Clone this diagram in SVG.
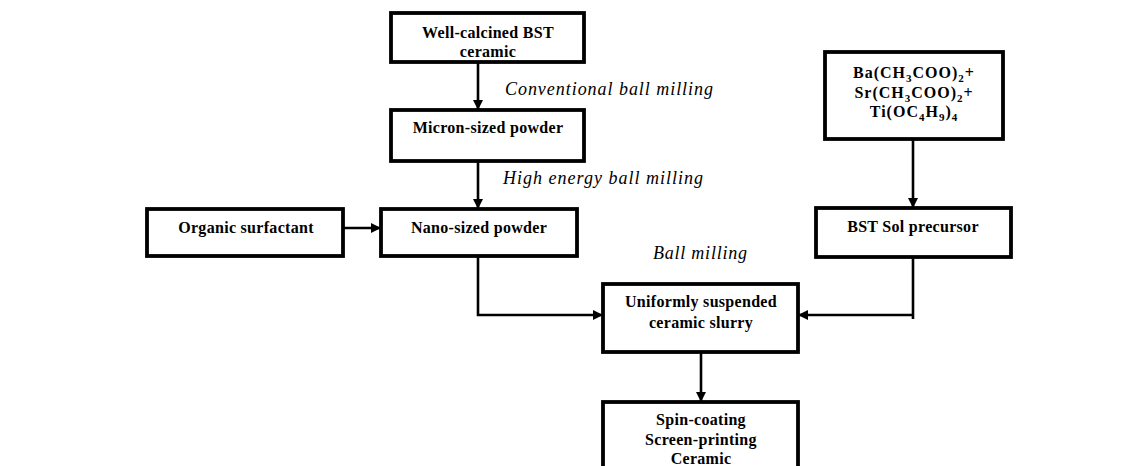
<svg xmlns="http://www.w3.org/2000/svg" width="1143" height="466" viewBox="0 0 1143 466">
<defs>
<style>
.box{fill:#fff;stroke:#000;stroke-width:3.8}
.lbl{font-family:"Liberation Serif","Times New Roman",serif;font-weight:bold;font-size:16px;letter-spacing:0.3px;text-anchor:middle;fill:#000}
.sm{letter-spacing:1px}
.it{font-family:"Liberation Serif","Times New Roman",serif;font-style:italic;font-size:18px;fill:#000}
.con{fill:none;stroke:#000;stroke-width:2.6}
</style>
<marker id="ah" viewBox="0 0 10 10" refX="10" refY="5" markerWidth="10" markerHeight="10" markerUnits="userSpaceOnUse" orient="auto">
<path d="M0,0 L10,5 L0,10 Z" fill="#000"/>
</marker>
</defs>
<rect width="1143" height="466" fill="#fff"/>
<g id="connectors">
<path class="con" d="M478,62 V110" marker-end="url(#ah)"/>
<path class="con" d="M478,161 V209" marker-end="url(#ah)"/>
<path class="con" d="M343,228 H381" marker-end="url(#ah)"/>
<path class="con" d="M478,256 V315 H603" marker-end="url(#ah)"/>
<path class="con" d="M913,139 V208" marker-end="url(#ah)"/>
<path class="con" d="M913,257 V319"/>
<path class="con" d="M913,315 H798" marker-end="url(#ah)"/>
<path class="con" d="M701,352 V402" marker-end="url(#ah)"/>
</g>
<g id="edge-labels">
<text class="it" x="505" y="95" textLength="208" lengthAdjust="spacing">Conventional ball milling</text>
<text class="it" x="503" y="184" textLength="200" lengthAdjust="spacing">High energy ball milling</text>
<text class="it" x="653" y="259" textLength="94" lengthAdjust="spacing">Ball milling</text>
</g>
<g id="node-calcined">
<rect class="box" x="391" y="13" width="193" height="49"/>
<text class="lbl" x="488" y="38">Well-calcined BST</text>
<text class="lbl" x="488" y="57">ceramic</text>
</g>
<g id="node-micron">
<rect class="box" x="391" y="110" width="193" height="51"/>
<text class="lbl" x="488" y="133">Micron-sized powder</text>
</g>
<g id="node-organic">
<rect class="box" x="147" y="209" width="196" height="47"/>
<text class="lbl" x="246" y="233">Organic surfactant</text>
</g>
<g id="node-nano">
<rect class="box" x="381" y="209" width="196" height="47"/>
<text class="lbl" x="479" y="233">Nano-sized powder</text>
</g>
<g id="node-precursors">
<rect class="box" x="825" y="52" width="178" height="87"/>
<text class="lbl sm" x="914" y="78">Ba(CH<tspan font-size="11" dy="4">3</tspan><tspan dy="-4">COO)</tspan><tspan font-size="11" dy="4">2</tspan><tspan dy="-4">+</tspan></text>
<text class="lbl sm" x="914" y="98">Sr(CH<tspan font-size="11" dy="4">3</tspan><tspan dy="-4">COO)</tspan><tspan font-size="11" dy="4">2</tspan><tspan dy="-4">+</tspan></text>
<text class="lbl sm" x="914" y="117">Ti(OC<tspan font-size="11" dy="4">4</tspan><tspan dy="-4">H</tspan><tspan font-size="11" dy="4">9</tspan><tspan dy="-4">)</tspan><tspan font-size="11" dy="4">4</tspan></text>
</g>
<g id="node-sol">
<rect class="box" x="816" y="208" width="195" height="49"/>
<text class="lbl" x="913" y="232">BST Sol precursor</text>
</g>
<g id="node-slurry">
<rect class="box" x="603" y="284" width="195" height="68"/>
<text class="lbl" x="701" y="307">Uniformly suspended</text>
<text class="lbl" x="701" y="328">ceramic slurry</text>
</g>
<g id="node-coating">
<rect class="box" x="603" y="402" width="195" height="70"/>
<text class="lbl" x="701" y="425">Spin-coating</text>
<text class="lbl" x="701" y="445">Screen-printing</text>
<text class="lbl" x="701" y="464">Ceramic</text>
</g>
</svg>
